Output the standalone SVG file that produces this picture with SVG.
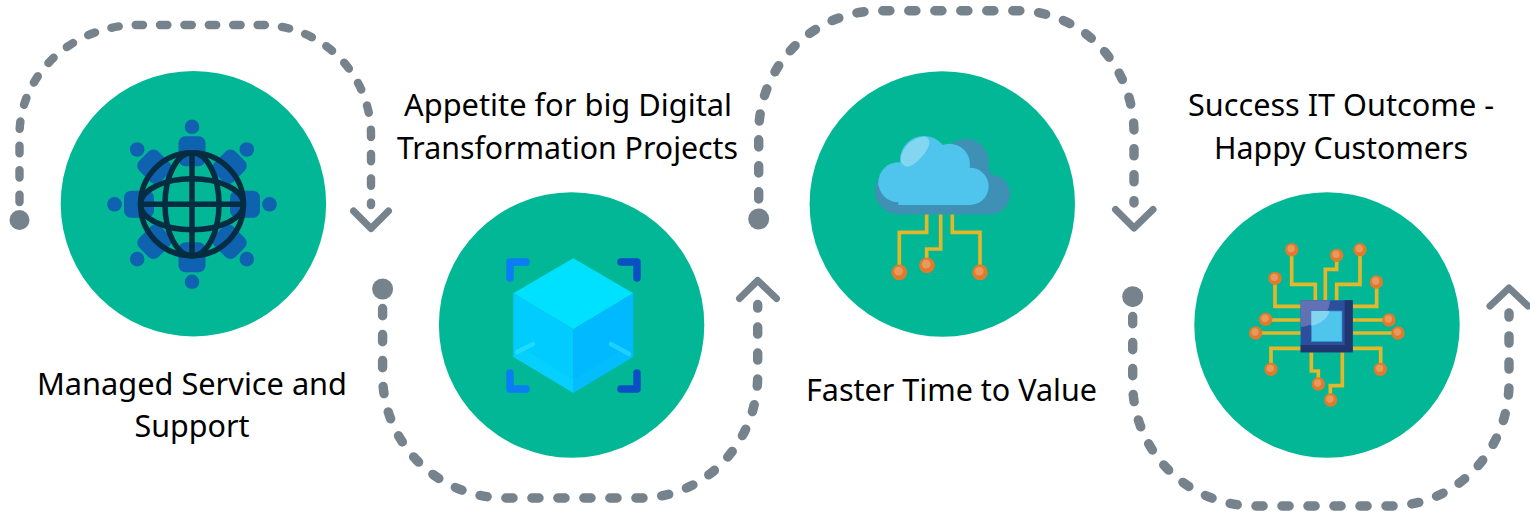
<svg xmlns="http://www.w3.org/2000/svg" xmlns:xlink="http://www.w3.org/1999/xlink" width="1530" height="511" viewBox="0 0 1530 511">
<style>
.disc{fill:#02b795}
.label{font-family:"Noto Sans","Open Sans",sans-serif;font-size:30.7px;fill:#000;text-anchor:middle}
.dash1{fill:none;stroke:#76838c;stroke-width:8.4;stroke-linecap:round;stroke-dasharray:7.4 17}
.dash2{fill:none;stroke:#76838c;stroke-width:9.4;stroke-linecap:round;stroke-dasharray:7.2 18.8}
.chev{fill:none;stroke:#76838c;stroke-width:7;stroke-linecap:round;stroke-linejoin:round}
.dot{fill:#76838c}
.head{fill:#0f62b0}
.wire{fill:none;stroke:#052d42;stroke-width:5.5}
.trace{fill:none;stroke:#e2b72a;stroke-width:11}
.bracketL{fill:none;stroke:#0a7cf5;stroke-width:7.5;stroke-linecap:round;stroke-linejoin:round}
.bracketR{fill:none;stroke:#0a4fc4;stroke-width:7.5;stroke-linecap:round;stroke-linejoin:round}
</style>
<defs>
<g id="ball"><circle r="20" fill="#e07b2e"/><circle cx="-2" cy="-3" r="11" fill="#e89a5e"/></g>
<g id="person"><circle cy="-77.5" r="7.3" class="head"/><rect x="-13.5" y="-68" width="27" height="30" rx="7" class="head"/></g>
</defs>
<g id="connectors">
<circle class="dot" cx="19.5" cy="220" r="10"/>
<path class="dash1" d="M19.5,202V135A118.5,110 0 0 1 138,25H262A109,110 0 0 1 371,135V205"/>
<path class="chev" d="M353.500,211L371,228.500L388.500,211"/>
<circle class="dot" cx="382.600" cy="289" r="10.500"/>
<path class="dash2" d="M382.600,308.500V375A122.400,123 0 0 0 505,498H640A117.700,123 0 0 0 757.700,375V304.500"/>
<path class="chev" d="M739.500,298.500L757.700,280.500L776.500,298.500"/>
<circle class="dot" cx="758.700" cy="219" r="10.500"/>
<path class="dash2" d="M758.700,199V133A121.300,122.300 0 0 1 880,10.700H1018A116,122.300 0 0 1 1134,133V203"/>
<path class="chev" d="M1115.500,209.500L1134,228L1153,209.500"/>
<circle class="dot" cx="1132.700" cy="296.700" r="10.500"/>
<path class="dash2" d="M1132.700,316.500V383A122.300,123 0 0 0 1255,506H1390A119,123 0 0 0 1509,383V313"/>
<path class="chev" d="M1490,306L1509,288L1528,306"/>
</g>
<g id="node-managed-service">
<circle class="disc" cx="193.400" cy="203.700" r="132.700"/>
<g transform="translate(192,204.300)">
<use xlink:href="#person" href="#person"/>
<use xlink:href="#person" href="#person" transform="rotate(45)"/>
<use xlink:href="#person" href="#person" transform="rotate(90)"/>
<use xlink:href="#person" href="#person" transform="rotate(135)"/>
<use xlink:href="#person" href="#person" transform="rotate(180)"/>
<use xlink:href="#person" href="#person" transform="rotate(225)"/>
<use xlink:href="#person" href="#person" transform="rotate(270)"/>
<use xlink:href="#person" href="#person" transform="rotate(315)"/>
<circle r="51.500" fill="#02b795" class="wire"/>
<ellipse rx="27" ry="51.500" class="wire"/>
<ellipse rx="51.500" ry="25.500" class="wire"/>
<path class="wire" d="M-51,0H51M0,-51V51"/>
</g>
<text class="label" x="192" y="395" textLength="310" lengthAdjust="spacingAndGlyphs">Managed Service and</text>
<text class="label" x="192" y="437" textLength="115" lengthAdjust="spacingAndGlyphs">Support</text>
</g>
<g id="node-digital-transformation">
<circle class="disc" cx="571.600" cy="325" r="132.700"/>
<polygon points="573.300,258.300 633.300,293.300 573.300,329.300 513.300,293.300" fill="#00e0ff"/>
<polygon points="513.300,293.300 573.300,329.300 573.300,392.700 513.300,356.700" fill="#00ccff"/>
<polygon points="633.300,293.300 573.300,329.300 573.300,392.700 633.300,356.700" fill="#00b9ff"/>
<polygon points="513.300,356.700 573.300,392.700 573.300,380 525,350" fill="#05d0ff"/>
<polygon points="633.300,356.700 573.300,392.700 573.300,380 621,350" fill="#03bdff"/>
<path d="M517,352L533,344" fill="none" stroke="#1cdcff" stroke-width="4.500" stroke-linecap="round"/>
<path d="M611,344L629,354" fill="none" stroke="#1cd0ff" stroke-width="4.500" stroke-linecap="round"/>
<path class="bracketL" d="M510,278V262H526"/>
<path class="bracketR" d="M621,262H637V278"/>
<path class="bracketL" d="M510,373V389H526"/>
<path class="bracketR" d="M621,389H637V373"/>
<text class="label" x="568" y="116" textLength="328" lengthAdjust="spacingAndGlyphs">Appetite for big Digital</text>
<text class="label" x="567.500" y="159" textLength="341" lengthAdjust="spacingAndGlyphs">Transformation Projects</text>
</g>
<g id="node-faster-time">
<circle class="disc" cx="942.300" cy="204" r="132.700"/>
<g transform="translate(860,125) scale(.33333)">
<path class="trace" d="M200,268V322H118V420M242,268V372H200V400M277,268V322H360V420"/>
<g fill="#3e90b4"><circle cx="318" cy="110" r="68"/><circle cx="390" cy="208" r="60"/><circle cx="115" cy="198" r="70"/><rect x="115" y="130" width="275" height="138"/></g>
<g fill="#4fc4ec"><circle cx="115" cy="172" r="60"/><circle cx="192" cy="105" r="72"/><circle cx="268" cy="118" r="62"/><circle cx="330" cy="184" r="56"/><rect x="115" y="130" width="215" height="110"/><rect x="55" y="172" width="60" height="10"/></g>
<path d="M122,100C128,60 165,35 195,35C207,38 212,50 205,65C195,90 165,120 145,125C130,125 122,115 122,100Z" fill="#83d6f0"/>
<use xlink:href="#ball" href="#ball" transform="translate(118,442) scale(1.180)"/>
<use xlink:href="#ball" href="#ball" transform="translate(201,421) scale(1.180)"/>
<use xlink:href="#ball" href="#ball" transform="translate(360,442) scale(1.180)"/>
</g>
<text class="label" x="951.500" y="401" textLength="291" lengthAdjust="spacingAndGlyphs">Faster Time to Value</text>
</g>
<g id="node-success-outcome">
<circle class="disc" cx="1327" cy="325" r="132.700"/>
<g transform="translate(1240,235) scale(.33333)">
<path class="trace" d="M226,196V148H155V45M256,196V103H290V62M290,196V148H360V45M182,214H105V130M338,214H410V142M182,255H77M182,294H47M338,255H447M338,294H474M182,340H93V403M338,340H422V403M214,352V408H235V447M307,352V452H271V495"/>
<rect x="182" y="196" width="156" height="156" fill="#2b4f9c"/>
<path d="M314,196H338V352H182V330H314Z" fill="#1f3670"/>
<path d="M182,196H270C268,240 235,270 182,276Z" fill="#6270b5"/>
<rect x="214" y="228" width="92" height="92" fill="#4fc4ec" stroke="#3a90c0" stroke-width="2"/>
<path d="M214,228H268C264,250 240,268 214,272Z" fill="#83d6f0"/>
<use xlink:href="#ball" href="#ball" x="155" y="44"/>
<use xlink:href="#ball" href="#ball" x="290" y="61"/>
<use xlink:href="#ball" href="#ball" x="360" y="44"/>
<use xlink:href="#ball" href="#ball" x="105" y="130"/>
<use xlink:href="#ball" href="#ball" x="409" y="141"/>
<use xlink:href="#ball" href="#ball" x="77" y="253"/>
<use xlink:href="#ball" href="#ball" x="47" y="294"/>
<use xlink:href="#ball" href="#ball" x="447" y="255"/>
<use xlink:href="#ball" href="#ball" x="474" y="294"/>
<use xlink:href="#ball" href="#ball" x="93" y="403"/>
<use xlink:href="#ball" href="#ball" x="421" y="403"/>
<use xlink:href="#ball" href="#ball" x="235" y="447"/>
<use xlink:href="#ball" href="#ball" x="272" y="495"/>
</g>
<text class="label" x="1341" y="116" textLength="306" lengthAdjust="spacingAndGlyphs">Success IT Outcome -</text>
<text class="label" x="1341" y="159" textLength="254" lengthAdjust="spacingAndGlyphs">Happy Customers</text>
</g>
</svg>
